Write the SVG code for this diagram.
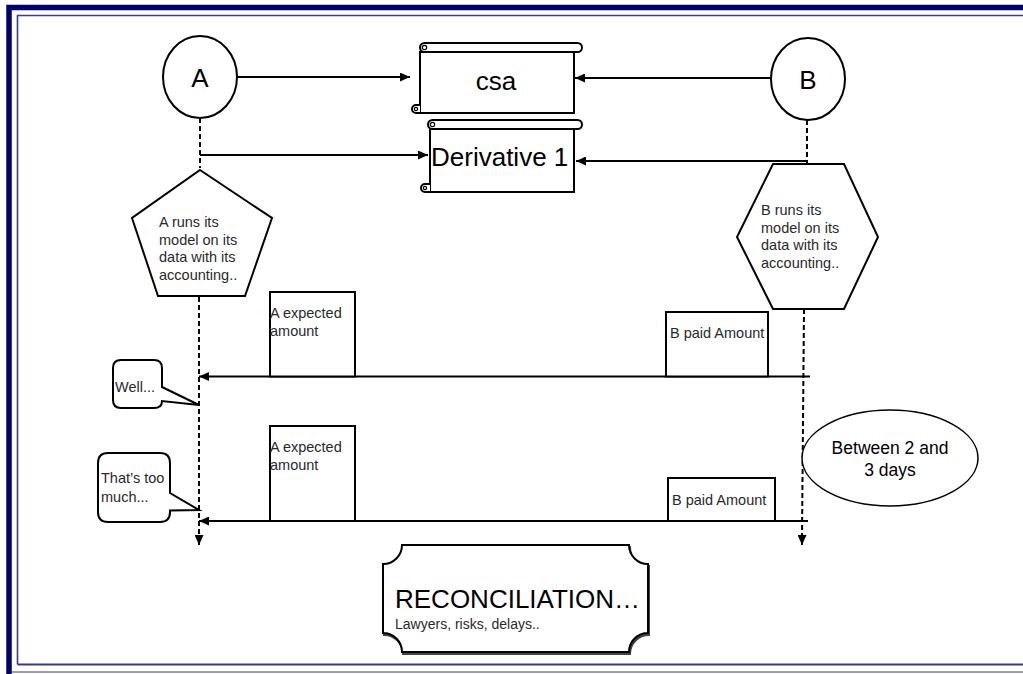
<svg xmlns="http://www.w3.org/2000/svg" width="1023" height="674" viewBox="0 0 1023 674">
<defs>
<style>
.ln{stroke:#000;stroke-width:2;fill:none}
.dash{stroke:#000;stroke-width:2;fill:none;stroke-dasharray:5 3}
.shp{stroke:#000;stroke-width:2;fill:#fff}
.big{font-family:"Liberation Sans",Arial,sans-serif;font-size:26px;fill:#000}
.sm{font-family:"Liberation Sans",Arial,sans-serif;font-size:14.5px;fill:#2a2a2a}
.md{font-family:"Liberation Sans",Arial,sans-serif;font-size:17.5px;fill:#000}
</style>
<marker id="ah" markerUnits="userSpaceOnUse" markerWidth="11" markerHeight="9" refX="10" refY="4.5" orient="auto">
<path d="M0,0 L10,4.5 L0,9 z" fill="#000"/>
</marker>
</defs>
<rect width="1023" height="674" fill="#fff"/>
<g id="frame">
<path d="M9,674 V7.5 H1023" fill="none" stroke="#000070" stroke-width="5.5"/>
<path d="M17.5,664.5 V15.5 H1023" fill="none" stroke="#3a3a90" stroke-width="1.6"/>
<path d="M17.5,664.5 H1023" fill="none" stroke="#3a3a90" stroke-width="1.8"/>
<path d="M12,672 H1023" fill="none" stroke="#7a7ab0" stroke-width="1.4"/>
</g>
<g id="connectors">
<path class="dash" d="M200,118 V168"/>
<path class="dash" d="M199,297 V536"/>
<path class="ln" d="M199,536 V545" marker-end="url(#ah)"/>
<path class="dash" d="M807,120 V164"/>
<path class="dash" d="M804,309 L802,536"/>
<path class="ln" d="M802,536 V545" marker-end="url(#ah)"/>
<path class="ln" d="M237,77 H410" marker-end="url(#ah)"/>
<path class="ln" d="M772,78 H575" marker-end="url(#ah)"/>
<path class="ln" d="M200,155 H428" marker-end="url(#ah)"/>
<path class="ln" d="M807,161 H576" marker-end="url(#ah)"/>
<path class="ln" d="M810,376.5 H199" marker-end="url(#ah)"/>
<path class="ln" d="M808,521 H199" marker-end="url(#ah)"/>
</g>
<g id="nodeA">
<ellipse class="shp" cx="200" cy="77" rx="37" ry="41"/>
<text class="big" x="200" y="87" text-anchor="middle">A</text>
</g>
<g id="nodeB">
<ellipse class="shp" cx="808" cy="79" rx="37" ry="41"/>
<text class="big" x="808" y="89" text-anchor="middle">B</text>
</g>
<g id="csa">
<path class="shp" d="M420,52 V113 H574 V52 Z"/>
<path class="shp" d="M420,113 H416 A4,4 0 0 1 416,105 H420"/>
<circle cx="416" cy="109" r="1.6" fill="none" stroke="#000" stroke-width="1.2"/>
<rect class="shp" x="420" y="43" width="162" height="9" rx="4.5"/>
<circle cx="424.5" cy="47.5" r="2.2" fill="none" stroke="#000" stroke-width="1.2"/>
<text class="big" x="496" y="90" text-anchor="middle">csa</text>
</g>
<g id="derivative">
<path class="shp" d="M430,129 V192 H574 V129 Z"/>
<path class="shp" d="M430,192 H425 A4,4 0 0 1 425,184 H430"/>
<circle cx="425" cy="188" r="1.6" fill="none" stroke="#000" stroke-width="1.2"/>
<rect class="shp" x="428" y="120" width="154" height="9" rx="4.5"/>
<circle cx="432.5" cy="124.5" r="2.2" fill="none" stroke="#000" stroke-width="1.2"/>
<text class="big" x="431" y="166">Derivative 1</text>
</g>
<g id="modelA">
<polygon class="shp" points="200,170 272,218 245,296 158,296 132,218"/>
<text class="sm" x="159" y="227">A runs its</text>
<text class="sm" x="159" y="244.5">model on its</text>
<text class="sm" x="159" y="262">data with its</text>
<text class="sm" x="159" y="279.5">accounting..</text>
</g>
<g id="modelB">
<polygon class="shp" points="773,164 844,164 878,237 844,309 773,309 737,237"/>
<text class="sm" x="761" y="215">B runs its</text>
<text class="sm" x="761" y="232.5">model on its</text>
<text class="sm" x="761" y="250">data with its</text>
<text class="sm" x="761" y="267.5">accounting..</text>
</g>
<g id="expectedA1">
<rect class="shp" x="270" y="292" width="85" height="84.5"/>
<text class="sm" x="270" y="318">A expected</text>
<text class="sm" x="270" y="336">amount</text>
</g>
<g id="paidB1">
<rect class="shp" x="666" y="312" width="102" height="64.5"/>
<text class="sm" x="670" y="338">B paid Amount</text>
</g>
<g id="expectedA2">
<rect class="shp" x="270" y="426" width="85" height="95"/>
<text class="sm" x="270" y="452">A expected</text>
<text class="sm" x="270" y="470">amount</text>
</g>
<g id="paidB2">
<rect class="shp" x="668" y="478" width="107" height="43"/>
<text class="sm" x="672" y="505">B paid Amount</text>
</g>
<g id="well">
<path class="shp" d="M121,360 H154 Q162,360 162,368 V387 L199,405 L162,401 Q162,408 154,408 H121 Q113,408 113,400 V368 Q113,360 121,360 Z"/>
<text class="sm" x="115" y="392">Well...</text>
</g>
<g id="toomuch">
<path class="shp" d="M108,453 H160 Q170,453 170,463 V493 L199,510 L170,510.5 V512 Q170,522 160,522 H108 Q98,522 98,512 V463 Q98,453 108,453 Z"/>
<text class="sm" x="101" y="483">That’s too</text>
<text class="sm" x="101" y="502">much...</text>
</g>
<g id="days">
<ellipse cx="890" cy="458" rx="88" ry="48" fill="#fff" stroke="#000" stroke-width="1.5"/>
<text class="md" x="890" y="454" text-anchor="middle">Between 2 and</text>
<text class="md" x="890" y="476" text-anchor="middle">3 days</text>
</g>
<g id="reconciliation">
<path d="M403,547 H630 A19,19 0 0 0 649,566 V635 A19,19 0 0 0 630,654 H403 A19,19 0 0 0 384,635 V566 A19,19 0 0 0 403,547 Z" fill="#444" stroke="#444" stroke-width="2"/>
<path class="shp" d="M402,545 H629 A19,19 0 0 0 648,564 V633 A19,19 0 0 0 629,652 H402 A19,19 0 0 0 383,633 V564 A19,19 0 0 0 402,545 Z"/>
<text class="big" x="395" y="608">RECONCILIATION…</text>
<text class="sm" x="395" y="629" style="font-size:14px">Lawyers, risks, delays..</text>
</g>
</svg>
